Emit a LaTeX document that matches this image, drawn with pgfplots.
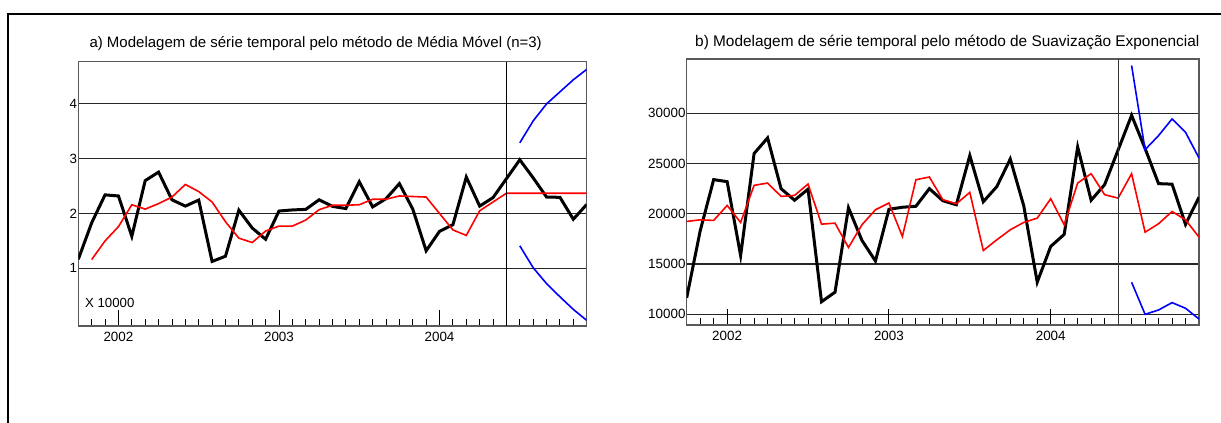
\documentclass[border=0pt]{standalone}
\usepackage{pgfplots}
\usepackage{pgfplotstable}
\pgfplotsset{compat=1.18}
\usepackage{fontspec}
\setmainfont{Liberation Sans}

\pgfplotstableread{
m v
-3 11650
-2 18300
-1 23400
0 23200
1 15850
2 26000
3 27550
4 22500
5 21350
6 22450
7 11250
8 12200
9 20600
10 17350
11 15300
12 20450
13 20650
14 20750
15 22500
16 21300
17 20900
18 25800
19 21200
20 22700
21 25450
22 20800
23 13200
24 16750
25 17950
26 26650
27 21350
28 22900
29 26350
30 29800
31 26500
32 23000
33 22950
34 18950
35 21650
}\realdata

\pgfplotstableread{
m v
-2 1.16
-1 1.50
0 1.76
1 2.16
2 2.08
3 2.18
4 2.30
5 2.53
6 2.40
7 2.21
8 1.85
9 1.55
10 1.47
11 1.68
12 1.77
13 1.77
14 1.88
15 2.07
16 2.15
17 2.15
18 2.16
19 2.26
20 2.26
21 2.32
22 2.31
23 2.30
24 2.00
25 1.70
26 1.60
27 2.05
28 2.21
29 2.37
30 2.37
31 2.37
32 2.37
33 2.37
34 2.37
35 2.37
}\mmdata

\pgfplotstableread{
m up lo
30 3.29 1.41
31 3.69 1.01
32 4.00 0.72
33 4.22 0.48
34 4.44 0.25
35 4.63 0.05
}\mmband

\pgfplotstableread{
m v
-3 19240
-2 19400
-1 19340
0 20830
1 19140
2 22830
3 23060
4 21730
5 21830
6 22960
7 18970
8 19070
9 16650
10 18910
11 20400
12 21070
13 17740
14 23390
15 23660
16 21400
17 21000
18 22130
19 16350
20 17410
21 18410
22 19140
23 19570
24 21500
25 18910
26 23060
27 23990
28 21900
29 21560
30 23990
31 18170
32 19010
33 20230
34 19400
35 17680
}\esdata

\pgfplotstableread{
m up lo
30 34760 13190
31 26380 10000
32 27780 10430
33 29440 11160
34 28110 10600
35 25550 9530
}\esband

\pgfplotsset{
  panel/.style={
    scale only axis,
    anchor=south west,
    xmin=-3, xmax=35,
    xtick={0,12,24},
    xticklabels={2002,2003,2004},
    minor xtick={-2,-1,1,2,3,4,5,6,7,8,9,10,11,13,14,15,16,17,18,19,20,21,22,23,25,26,27,28,29,30,31,32,33,34,35},
    tick align=inside,
    xtick pos=left,
    ytick pos=left,
    scaled y ticks=false,
    major tick length=16pt,
    minor tick length=7pt,
    every tick/.style={black, line width=0.9pt},
    ytick style={draw=none},
    ymajorgrids,
    major grid style={black!85, line width=1.2pt},
    axis line style={black!65, line width=1.4pt},
    tick label style={font=\fontsize{13.4}{15}\selectfont},
    xticklabel style={inner sep=0pt, yshift=-6pt},
    yticklabel style={inner sep=1pt},
    title style={at={(0,1)}, anchor=base west, inner sep=0pt, font=\fontsize{15}{17}\selectfont},
  }
}

\begin{document}
\begin{tikzpicture}
\path[use as bounding box] (0pt,0pt) rectangle (1221pt,-423pt);
\draw[line width=2pt] (8pt,-423pt) -- (8pt,-14pt) -- (1221pt,-14pt);

\begin{axis}[panel,
  at={(78.3pt,-326pt)}, width=508.4pt, height=264.3pt,
  ymin=-0.053, ymax=4.77,
  ytick={1,2,3,4},
  yticklabels={1,2,3,4},
  title={a) Modelagem de série temporal pelo método de Média Móvel (n=3)},
  title style={xshift=11pt, yshift=8.4pt},
]
\addplot[black, line width=3pt] table[x=m, y expr=\thisrow{v}/10000] {\realdata};
\addplot[red, line width=1.6pt] table[x=m, y=v] {\mmdata};
\addplot[blue, line width=1.6pt] table[x=m, y=up] {\mmband};
\addplot[blue, line width=1.6pt] table[x=m, y=lo] {\mmband};
\draw[black, line width=0.9pt] ({axis cs:29,0}|-{rel axis cs:0,0}) -- ({axis cs:29,0}|-{rel axis cs:0,1});
\node[anchor=west, inner sep=0pt, font=\fontsize{13.2}{15}\selectfont] at (axis cs:-2.5,0.36) {X 10000};
\end{axis}

\begin{axis}[panel,
  at={(686.7pt,-325pt)}, width=512.3pt, height=266pt,
  ymin=8935, ymax=35403,
  ytick={10000,15000,20000,25000,30000},
  yticklabels={10000,15000,20000,25000,30000},
  title={b) Modelagem de série temporal pelo método de Suavização Exponencial},
  title style={xshift=8.3pt, yshift=6.7pt, font=\fontsize{15.4}{17}\selectfont},
]
\addplot[black, line width=3pt] table[x=m, y=v] {\realdata};
\addplot[red, line width=1.6pt] table[x=m, y=v] {\esdata};
\addplot[blue, line width=1.6pt] table[x=m, y=up] {\esband};
\addplot[blue, line width=1.6pt] table[x=m, y=lo] {\esband};
\draw[black!80, line width=0.9pt] ({axis cs:29,10000}|-{rel axis cs:0,0}) -- ({axis cs:29,10000}|-{rel axis cs:0,1});
\end{axis}
\end{tikzpicture}
\end{document}
